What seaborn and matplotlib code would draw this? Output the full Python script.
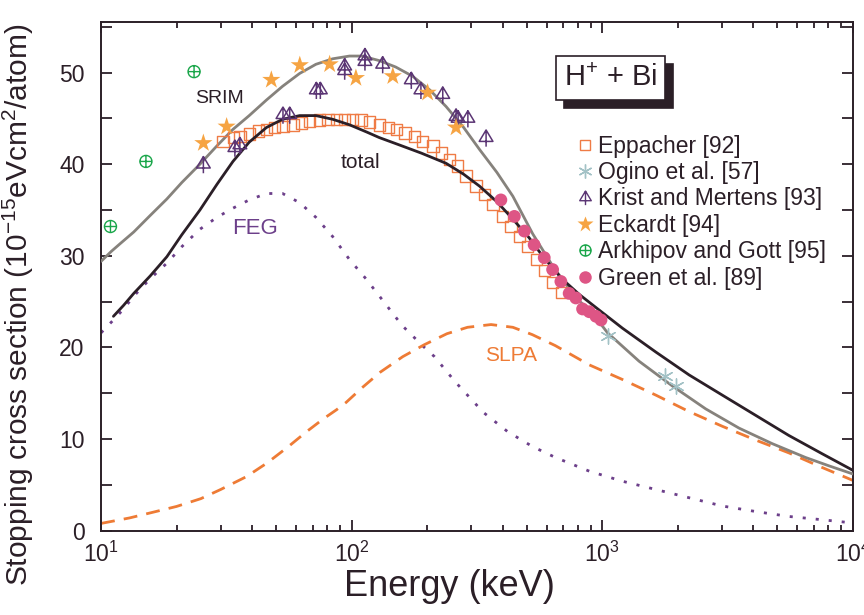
import matplotlib
matplotlib.use('Agg')
import matplotlib.pyplot as plt
import matplotlib.transforms as mtransforms
from matplotlib.path import Path
from matplotlib.lines import Line2D
from matplotlib.ticker import MultipleLocator, LogLocator, NullFormatter
import seaborn as sns

# --- curves (energy in keV, stopping cross section) ---
srim_e = [10, 11, 12, 13.5, 15.7, 18.3, 21, 24.8, 29, 33.6, 39, 45.7, 53, 62, 72, 84, 98, 110,
          129, 150, 175, 205, 238, 280, 324, 380, 440, 528, 634, 720, 809, 900, 972, 1050,
          1403, 1905, 2588, 3516, 4775, 6475, 8000, 10000]
srim_v = [29.4, 30.5, 31.4, 32.6, 34.4, 36.2, 38.0, 40.0, 42.0, 43.8, 45.3, 47.0, 48.5, 49.9,
          50.9, 51.5, 51.8, 51.8, 51.3, 50.6, 49.6, 48.1, 46.3, 44.0, 41.6, 39.1, 36.5, 32.4,
          28.9, 26.8, 25.1, 23.9, 22.8, 21.6, 18.5, 15.8, 13.3, 11.2, 9.5, 8.0, 7.1, 6.2]

total_e = [11.2, 12.3, 13.5, 15.7, 18.3, 21, 24.8, 29, 33.6, 39, 45.7, 53, 62, 72, 84, 98, 115,
           129, 155, 190, 238, 280, 324, 380, 440, 510, 581, 690, 809, 950, 1205, 1637, 2223,
           3015, 4093, 5555, 7550, 10000]
total_v = [23.4, 24.6, 25.9, 27.8, 29.9, 32.3, 35.0, 37.8, 40.3, 42.4, 44.0, 44.9, 45.3, 45.3,
           44.9, 44.3, 43.5, 42.9, 42.1, 41.2, 40.1, 38.9, 37.6, 35.9, 34.0, 32.0, 29.9, 27.5,
           25.8, 24.3, 22.1, 19.5, 17.0, 14.8, 12.6, 10.4, 8.4, 6.6]

feg_e = [10, 11.2, 12.3, 13.5, 15.7, 18.3, 21, 24.8, 29, 33.6, 39, 45.7, 53, 62, 72, 84, 98, 114,
         136, 159, 190, 214, 260, 336, 420, 526, 650, 888, 1205, 1637, 2223, 3015, 4093, 5555,
         7550, 10000]
feg_v = [21.6, 23.0, 24.2, 25.6, 27.5, 29.2, 31.0, 32.9, 34.2, 35.2, 36.1, 36.8, 36.8, 35.8,
         34.2, 32.1, 29.6, 27.5, 24.8, 22.4, 20.3, 19.0, 16.2, 12.9, 10.8, 9.2, 8.0, 6.5, 5.4,
         4.5, 3.6, 2.7, 2.1, 1.56, 1.2, 0.85]

slpa_e = [10, 13, 16, 20, 25, 30, 38, 46, 56, 66, 77, 87, 95, 110, 130, 160, 195, 240, 290, 360,
          440, 526, 650, 888, 1205, 1637, 2223, 3015, 4093, 5555, 7550, 10000]
slpa_v = [0.8, 1.4, 2.0, 2.65, 3.5, 4.5, 5.9, 7.4, 9.2, 10.8, 12.2, 13.2, 14.0, 15.6, 17.3, 19.0,
          20.3, 21.5, 22.2, 22.5, 22.2, 21.4, 20.2, 18.1, 16.5, 14.8, 13.0, 11.4, 9.9, 8.5,
          6.9, 5.5]

# --- experimental data ---
eppacher_e = [30.7, 33.7, 35.8, 39.2, 42.4, 45.7, 49.3, 53.2, 58.3, 63, 68, 74.6, 80.5, 87, 93.8,
              101, 109, 118, 129, 140, 151, 163, 178, 192, 211, 228, 246, 265, 286, 314, 339,
              366, 401, 433, 467, 504, 546, 587, 632, 687]
eppacher_v = [42.5, 42.9, 43.0, 43.3, 43.6, 43.8, 44.0, 44.1, 44.3, 44.5, 44.7, 44.8, 44.9, 44.9,
              44.9, 44.9, 44.8, 44.6, 44.3, 44.0, 43.8, 43.4, 43.0, 42.5, 42.0, 41.2, 40.5, 39.8,
              38.7, 37.6, 36.7, 35.6, 34.3, 33.2, 32.1, 31.0, 29.6, 28.4, 27.1, 26.0]

ogino_e = [1058, 1780, 1970]
ogino_v = [21.2, 16.9, 15.8]

krist_e = [25.6, 34.2, 35.8, 53.2, 56.6, 72.3, 75.0, 93.8, 93.8, 113, 113, 133, 173, 189, 231,
           261, 266, 291, 344]
krist_v = [40.0, 41.8, 42.1, 45.4, 45.4, 48.1, 48.1, 50.7, 50.2, 51.8, 51.2, 50.9, 49.2, 48.1,
           47.6, 45.2, 45.0, 45.0, 42.9]

eckardt_e = [25.6, 31.7, 47.8, 62.1, 81.7, 104, 146, 201, 261]
eckardt_v = [42.3, 44.1, 49.2, 50.8, 50.9, 49.4, 49.6, 47.8, 44.0]

arkhipov_e = [10.9, 15.1, 23.5]
arkhipov_v = [33.2, 40.3, 50.1]

green_e = [394, 446, 489, 535, 587, 634, 684, 738, 785, 835, 888, 944, 989]
green_v = [36.1, 34.3, 32.7, 31.2, 29.8, 28.5, 27.2, 25.9, 25.4, 24.2, 23.9, 23.4, 23.0]

# colours
c_dark = '#2b1f27'
c_srim = '#86827c'
c_feg = '#6c3f8a'
c_slpa = '#ee7b35'
c_epp = '#ef7b45'
c_ogino = '#a3c2c6'
c_krist = '#5b3574'
c_eck = '#f6a443'
c_ark = '#1aa64a'
c_green = '#de5585'

# custom markers: triangle with stem, circle with cross
tree = Path([(0, 0.8), (-0.72, -0.4), (0.72, -0.4), (0, 0.8), (0, 0.8), (0, -0.95)],
            [Path.MOVETO, Path.LINETO, Path.LINETO, Path.CLOSEPOLY, Path.MOVETO, Path.LINETO])
oplus = Path.make_compound_path(
    Path.unit_circle(),
    Path([(-1, 0), (1, 0)], [Path.MOVETO, Path.LINETO]),
    Path([(0, -1), (0, 1)], [Path.MOVETO, Path.LINETO]))

sns.set_style('ticks')
plt.rcParams['font.family'] = ['Liberation Sans', 'DejaVu Sans']
plt.rcParams['mathtext.fontset'] = 'custom'
plt.rcParams['mathtext.rm'] = 'Liberation Sans'
plt.rcParams['mathtext.it'] = 'Liberation Sans:italic'
plt.rcParams['mathtext.bf'] = 'Liberation Sans:bold'
plt.rcParams['mathtext.sf'] = 'Liberation Sans'

fig = plt.figure(figsize=(8.64, 6.15), dpi=100)
ax = fig.add_axes([0.117, 0.137, 0.870, 0.827])
ax.set_xscale('log')

# curves
sns.lineplot(x=feg_e, y=feg_v, ax=ax, color=c_feg, lw=2.0, sort=False, estimator=None,
             zorder=2).lines[-1].set_dashes([1.1, 3.6])
sns.lineplot(x=slpa_e, y=slpa_v, ax=ax, color=c_slpa, lw=2.0, sort=False, estimator=None,
             zorder=2).lines[-1].set_dashes([5, 3.3])
sns.lineplot(x=srim_e, y=srim_v, ax=ax, color=c_srim, lw=2.0, sort=False, estimator=None, zorder=3)

# experimental points
sns.scatterplot(x=eppacher_e, y=eppacher_v, ax=ax, marker='s', s=68, color=c_epp,
                facecolors='none', edgecolor=c_epp, linewidth=1.0, zorder=4)
sns.lineplot(x=total_e, y=total_v, ax=ax, color=c_dark, lw=2.0, sort=False, estimator=None, zorder=5)
sns.scatterplot(x=ogino_e, y=ogino_v, ax=ax, marker=(6, 2, 0), s=120, color=c_ogino,
                edgecolor=c_ogino, linewidth=1.0, zorder=6)
sns.scatterplot(x=krist_e, y=krist_v, ax=ax, marker=tree, s=170, color=c_krist,
                facecolors='none', edgecolor=c_krist, linewidth=1.1, zorder=6)
sns.scatterplot(x=eckardt_e, y=eckardt_v, ax=ax, marker='*', s=190, color=c_eck,
                edgecolor='none', linewidth=0, zorder=6)
sns.scatterplot(x=arkhipov_e, y=arkhipov_v, ax=ax, marker=oplus, s=75, color=c_ark,
                facecolors='none', edgecolor=c_ark, linewidth=1.0, zorder=6)
sns.scatterplot(x=green_e, y=green_v, ax=ax, marker='o', s=85, color=c_green,
                edgecolor='none', linewidth=0, zorder=6)

# axes
ax.set_xlim(10, 10000)
ax.set_ylim(0, 55.5)
ax.yaxis.set_major_locator(MultipleLocator(10))
ax.yaxis.set_minor_locator(MultipleLocator(5))
ax.xaxis.set_minor_locator(LogLocator(base=10, subs=range(2, 10)))
ax.xaxis.set_minor_formatter(NullFormatter())
ax.tick_params(which='both', direction='in', top=True, right=True, color=c_dark, width=1.3)
ax.tick_params(which='major', length=8, labelsize=16.5, labelcolor=c_dark)
ax.tick_params(axis='y', which='minor', length=8)
ax.tick_params(axis='x', which='minor', length=4.5)
ax.tick_params(axis='y', which='major', pad=12)
ax.tick_params(axis='x', which='major', pad=8)
for sp in ax.spines.values():
    sp.set_color(c_dark)
    sp.set_linewidth(1.4)

ax.set_xlabel('Energy (keV)', fontsize=26, color=c_dark)
ax.set_ylabel('Stopping cross section (10$^{-15}$eVcm$^{2}$/atom)', fontsize=21.5,
              color=c_dark)
ax.xaxis.set_label_coords(0.464, -0.075)
ax.yaxis.set_label_coords(-0.086, 0.445)

# curve labels
ax.text(29.8, 47.2, 'SRIM', fontsize=14, color=c_dark, ha='center', va='center')
ax.text(108, 40.2, 'total', fontsize=15, color=c_dark, ha='center', va='center')
ax.text(41, 33.0, 'FEG', fontsize=16, color=c_feg, ha='center', va='center')
ax.text(434, 19.1, 'SLPA', fontsize=15, color=c_slpa, ha='center', va='center')

# H+ + Bi box with shadow
shadow_tr = mtransforms.offset_copy(ax.transAxes, fig=fig, x=8, y=-8, units='dots')
box_kw = dict(fontsize=21, ha='center', va='center')
ax.text(0.678, 0.89, 'H$^{+}$ + Bi', transform=shadow_tr, color=c_dark, zorder=7,
        bbox=dict(boxstyle='square,pad=0.28', fc=c_dark, ec=c_dark, lw=1.2), **box_kw)
ax.text(0.678, 0.89, 'H$^{+}$ + Bi', transform=ax.transAxes, color=c_dark, zorder=8,
        bbox=dict(boxstyle='square,pad=0.28', fc='white', ec=c_dark, lw=1.2), **box_kw)

# legend
handles = [
    Line2D([], [], ls='none', marker='s', ms=7, mfc='none', mec=c_epp, mew=1.0),
    Line2D([], [], ls='none', marker=(6, 2, 0), ms=10, mec=c_ogino, mew=1.0),
    Line2D([], [], ls='none', marker=tree, ms=11, mfc='none', mec=c_krist, mew=1.0),
    Line2D([], [], ls='none', marker='*', ms=12, mfc=c_eck, mec='none'),
    Line2D([], [], ls='none', marker=oplus, ms=8, mfc='none', mec=c_ark, mew=1.0),
    Line2D([], [], ls='none', marker='o', ms=9, mfc=c_green, mec='none'),
]
labels = ['Eppacher [92]', 'Ogino et al. [57]', 'Krist and Mertens [93]', 'Eckardt [94]',
          'Arkhipov and Gott [95]', 'Green et al. [89]']
leg = ax.legend(handles, labels, loc='upper left', bbox_to_anchor=(0.631, 0.779), frameon=False,
                fontsize=16.5, handlelength=0.8, handletextpad=0.2, labelspacing=0.15,
                borderaxespad=0, borderpad=0)
for t in leg.get_texts():
    t.set_color(c_dark)

fig.savefig('out.png', dpi=100, facecolor='white')
